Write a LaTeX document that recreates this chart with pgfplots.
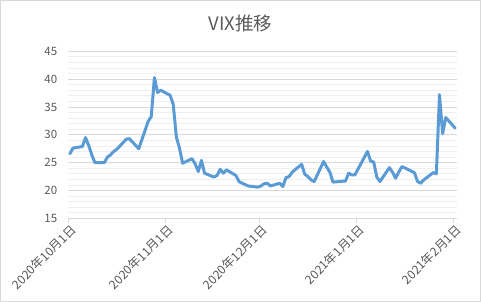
\documentclass[border=0pt]{standalone}
\usepackage{fontspec}
\setmainfont{Noto Sans CJK JP}
\usepackage{pgfplots}
\pgfplotsset{compat=1.18}
\usepackage{pgfplotstable}
\definecolor{linec}{HTML}{5B9BD5}
\definecolor{txt}{HTML}{595959}
\definecolor{majg}{HTML}{D9D9D9}
\definecolor{ming}{HTML}{EFEFEF}
\pgfplotstableread{
day vix
0.5 26.6
1.5 27.6
4.5 27.9
5.5 29.5
6.5 28.1
7.5 26.4
8.5 25.0
11.5 25.0
12.5 26.0
13.5 26.4
14.5 27.0
15.5 27.4
18.5 29.2
19.5 29.3
20.5 28.7
21.5 28.1
22.5 27.5
25.5 32.4
26.5 33.3
27.5 40.3
28.5 37.6
29.5 38.0
32.5 37.1
33.5 35.5
34.5 29.6
35.5 27.6
36.5 24.9
39.5 25.7
40.5 24.8
41.5 23.4
42.5 25.4
43.5 23.1
46.5 22.4
47.5 22.7
48.5 23.8
49.5 23.1
50.5 23.7
53.5 22.7
54.5 21.6
55.5 21.3
57.5 20.8
60.5 20.6
61.5 20.8
62.5 21.2
63.5 21.3
64.5 20.8
67.5 21.3
68.5 20.7
69.5 22.3
70.5 22.5
71.5 23.3
74.5 24.7
75.5 22.9
76.5 22.5
77.5 21.9
78.5 21.6
81.5 25.2
82.5 24.2
83.5 23.3
84.5 21.5
88.5 21.7
89.5 23.1
90.5 22.8
91.5 22.8
95.5 27.0
96.5 25.3
97.5 25.1
98.5 22.4
99.5 21.6
102.5 24.1
103.5 23.3
104.5 22.2
105.5 23.3
106.5 24.3
110.5 23.2
111.5 21.6
112.5 21.3
113.5 21.9
116.5 23.2
117.5 23.0
118.5 37.2
119.5 30.2
120.5 33.1
123.5 31.2
}\vixdata
\begin{document}
\begin{tikzpicture}
\draw[majg, line width=0.75bp] (0.4bp,0.4bp) rectangle (480.6bp,301.6bp);
\node[anchor=base, text=txt, font=\fontsize{18.5bp}{20bp}\selectfont] at (240.5bp,271bp) {VIX推移};
\begin{axis}[
  at={(68.3bp,83.7bp)}, anchor=south west,
  scale only axis, width=388.4bp, height=167bp,
  xmin=0, xmax=124, ymin=15, ymax=45,
  xtick={0,31,61,92,123},
  xticklabels={2020年10月1日,2020年11月1日,2020年12月1日,2021年1月1日,2021年2月1日},
  ytick={15,20,...,45},
  minor ytick={16,17,18,19,21,22,23,24,26,27,28,29,31,32,33,34,36,37,38,39,41,42,43,44},
  ymajorgrids, yminorgrids,
  major grid style={majg, line width=0.75bp},
  minor grid style={ming, line width=0.75bp},
  axis x line*=bottom,
  x axis line style={draw=majg, line width=0.75bp, -},
  axis y line*=left,
  y axis line style={draw=none},
  xtick style={draw=majg, line width=0.75bp},
  ytick style={draw=none},
  minor tick length=0pt,
  tick align=outside,
  major tick length=4.5bp,
  tick label style={text=txt, font=\fontsize{11.5bp}{13bp}\selectfont},
  /pgf/number format/assume math mode=true,
  xticklabel style={rotate=45, anchor=east, font=\fontsize{12.2bp}{13bp}\selectfont, yshift=-7bp, xshift=4bp},
  yticklabel style={xshift=-3bp},
  clip=false,
]
\addplot[linec, line width=3bp, line join=round, line cap=round] table[x=day, y=vix] {\vixdata};
\end{axis}
\end{tikzpicture}
\end{document}
